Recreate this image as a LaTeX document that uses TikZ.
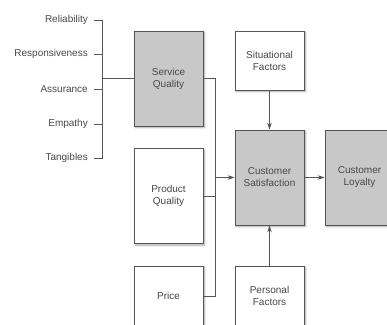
\documentclass[tikz,border=0pt]{standalone}
\usepackage{fontspec}
\setmainfont{Liberation Sans}
\usetikzlibrary{arrows.meta, shadows.blur}
\definecolor{boxgray}{HTML}{C8C8C8}
\definecolor{linegray}{HTML}{555555}
\definecolor{textgray}{HTML}{484848}

\tikzset{
  factor/.style={draw=linegray, line width=0.7pt, fill=white, minimum width=69pt,
    align=center, text=textgray, font=\fontsize{10}{12}\selectfont,
    blur shadow={shadow xshift=1.5pt, shadow yshift=-1.5pt, shadow blur steps=5, shadow opacity=35}},
  shaded/.style={factor, fill=boxgray},
  dim/.style={anchor=east, text=textgray, font=\fontsize{10}{12}\selectfont, inner sep=0pt},
  link/.style={draw=linegray, line width=0.7pt},
  arrow/.style={link, -{Stealth[length=7pt, width=4.5pt]}}
}

\begin{document}
\begin{tikzpicture}[x=1pt, y=-1pt]
            \useasboundingbox (0,0) rectangle (387,324);
            % service dimensions
            \node[dim] (rel) at (88,20) {Reliability};
            \node[dim] (resp) at (88,54) {Responsiveness};
            \node[dim] (assur) at (88,89) {Assurance};
            \node[dim] (emp) at (88,124) {Empathy};
            \node[dim] (tang) at (88,158) {Tangibles};
            % boxes
            \node[shaded, minimum height=95pt] (sq) at (168.5,78.5) {Service\\Quality};
            \node[factor, minimum height=95pt] (pq) at (168.5,196) {Product\\Quality};
            \node[factor, minimum height=60pt] (price) at (168.5,296) {Price};
            \node[factor, minimum height=59pt] (sit) at (269.5,60.5) {Situational\\Factors};
            \node[shaded, minimum height=95pt] (cs) at (269.5,177.5) {Customer\\Satisfaction};
            \node[factor, minimum height=60pt] (pers) at (269.5,296) {Personal\\Factors};
            \node[shaded, minimum height=95pt] (cl) at (359.5,177.5) {Customer\\Loyalty};
            % bracket
            \draw[link] ([xshift=6pt]rel.east) -| ([xshift=14pt]tang.east) -- ([xshift=6pt]tang.east);
            \draw[link] ([xshift=6pt]resp.east) -- ++(8pt,0);
            \draw[link] ([xshift=6pt]assur.east) -- ++(8pt,0);
            \draw[link] ([xshift=6pt]emp.east) -- ++(8pt,0);
            \draw[link] (sq.west) -- ([xshift=14pt]rel.east |- sq.west);
            % collector
            \draw[link] (sq.east) -- ++(12pt,0) |- (price.east);
            \draw[link] (pq.east) -- ++(12pt,0);
            \draw[arrow] ([xshift=12pt]sq.east |- cs.west) -- (cs.west);
            \draw[arrow] (sit) -- (cs);
            \draw[arrow] (pers) -- (cs);
            \draw[arrow] (cs) -- (cl);
\end{tikzpicture}
\end{document}
